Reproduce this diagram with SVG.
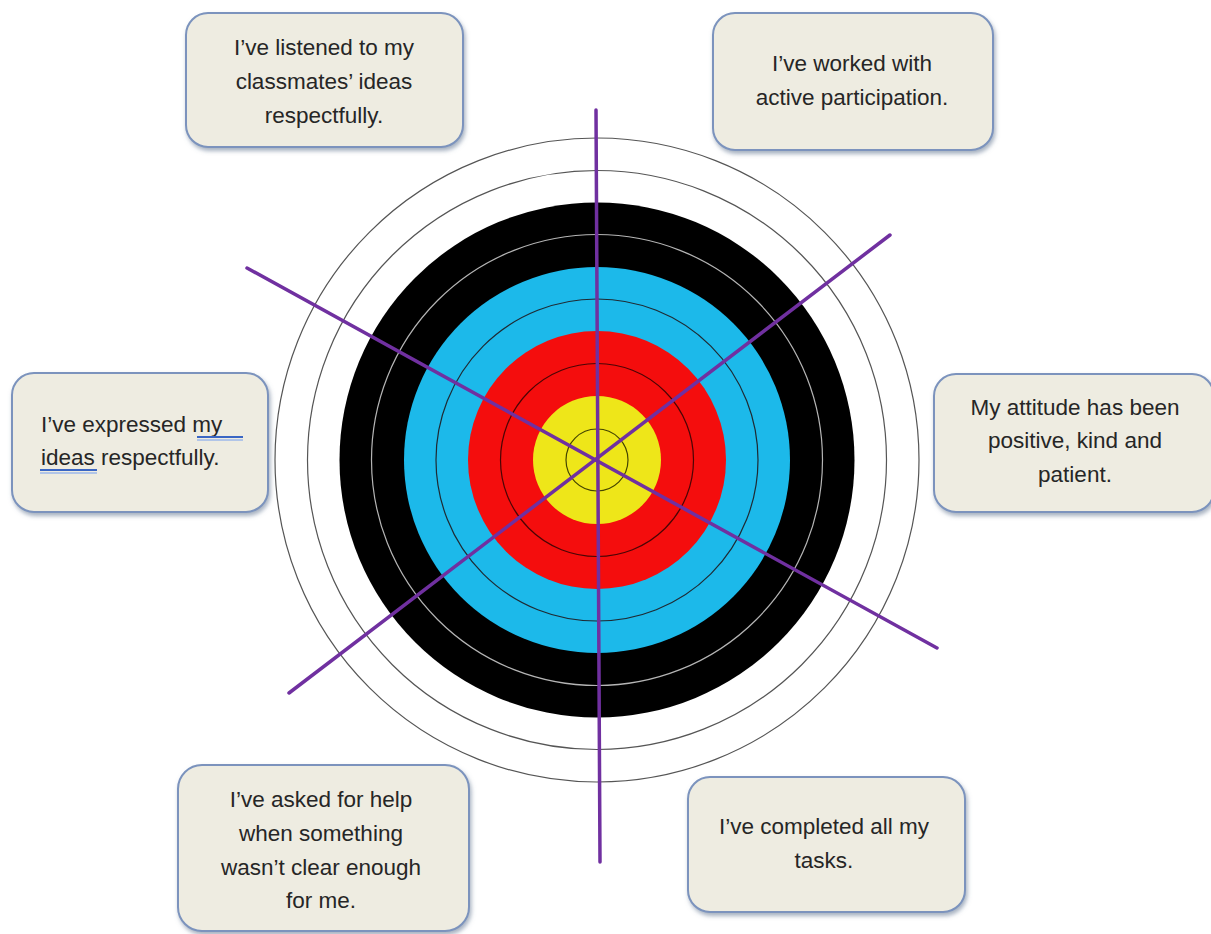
<svg xmlns="http://www.w3.org/2000/svg" width="1211" height="934" viewBox="0 0 1211 934">
  <defs>
    <filter id="sh" x="-10%" y="-10%" width="125%" height="130%">
      <feDropShadow dx="1.5" dy="3" stdDeviation="2" flood-color="#5b6f8c" flood-opacity="0.55"/>
    </filter>
    <style>
      .box { fill: #eeece1; stroke: #7b93bd; stroke-width: 2; filter: url(#sh); }
      .t { font-family: "Liberation Sans", Arial, sans-serif; font-size: 22.5px; fill: #262626; text-anchor: middle; }
      .tl { font-family: "Liberation Sans", Arial, sans-serif; font-size: 22.5px; fill: #262626; text-anchor: start; }
      .ring { fill: none; stroke-width: 1.2; }
      .axis { stroke: #7030a0; stroke-width: 3.5; stroke-linecap: round; fill: none; }
      .ul { stroke: #3a66c4; stroke-width: 2; }
      .ul2 { stroke: #9db8ea; stroke-width: 1.5; }
    </style>
  </defs>
  <rect width="1211" height="934" fill="#ffffff"/>

  <g id="target">
    <circle cx="597" cy="460" r="322" fill="#ffffff" stroke="#555555" class="ring"/>
    <circle cx="597" cy="460" r="289.5" fill="none" stroke="#555555" class="ring"/>
    <circle cx="597" cy="460" r="257.5" fill="#000000"/>
    <circle cx="597" cy="460" r="225.5" class="ring" stroke="#b5b5b5"/>
    <circle cx="597" cy="460" r="193" fill="#1cb9ea"/>
    <circle cx="597" cy="460" r="161" class="ring" stroke="#1f2a33"/>
    <circle cx="597" cy="460" r="129" fill="#f40d0d"/>
    <circle cx="597" cy="460" r="96.5" class="ring" stroke="#4a0505" stroke-width="1.6"/>
    <circle cx="597" cy="460" r="64" fill="#eee619"/>
    <circle cx="597" cy="460" r="31" class="ring" stroke="#444400"/>
  </g>

  <g id="connectors">
    <line class="axis" x1="596" y1="110" x2="600" y2="862"/>
    <line class="axis" x1="247" y1="268" x2="937" y2="648"/>
    <line class="axis" x1="289" y1="693" x2="890" y2="235"/>
  </g>

  <g id="node-listened">
    <rect class="box" x="186" y="13" width="277" height="134" rx="22"/>
    <text class="t" x="324" y="55">I’ve listened to my</text>
    <text class="t" x="324" y="89">classmates’ ideas</text>
    <text class="t" x="324" y="123">respectfully.</text>
  </g>

  <g id="node-worked">
    <rect class="box" x="713" y="13" width="280" height="137" rx="22"/>
    <text class="t" x="852" y="71">I’ve worked with</text>
    <text class="t" x="852" y="105">active participation.</text>
  </g>

  <g id="node-expressed">
    <rect class="box" x="12" y="373" width="256" height="139" rx="22"/>
    <text class="tl" x="41" y="432">I’ve expressed my</text>
    <text class="tl" x="41" y="465">ideas respectfully.</text>
    <line class="ul" x1="197" y1="437" x2="243" y2="437"/>
    <line class="ul2" x1="197" y1="440" x2="243" y2="440"/>
    <line class="ul" x1="40" y1="470" x2="97" y2="470"/>
    <line class="ul2" x1="40" y1="473" x2="97" y2="473"/>
  </g>

  <g id="node-attitude">
    <rect class="box" x="934" y="374" width="280" height="138" rx="22"/>
    <text class="t" x="1075" y="415">My attitude has been</text>
    <text class="t" x="1075" y="448">positive, kind and</text>
    <text class="t" x="1075" y="482">patient.</text>
  </g>

  <g id="node-asked">
    <rect class="box" x="178" y="765" width="291" height="166" rx="24"/>
    <text class="t" x="321" y="807">I’ve asked for help</text>
    <text class="t" x="321" y="841">when something</text>
    <text class="t" x="321" y="875">wasn’t clear enough</text>
    <text class="t" x="321" y="908">for me.</text>
  </g>

  <g id="node-completed">
    <rect class="box" x="688" y="777" width="277" height="135" rx="22"/>
    <text class="t" x="824" y="834">I’ve completed all my</text>
    <text class="t" x="824" y="868">tasks.</text>
  </g>
</svg>
